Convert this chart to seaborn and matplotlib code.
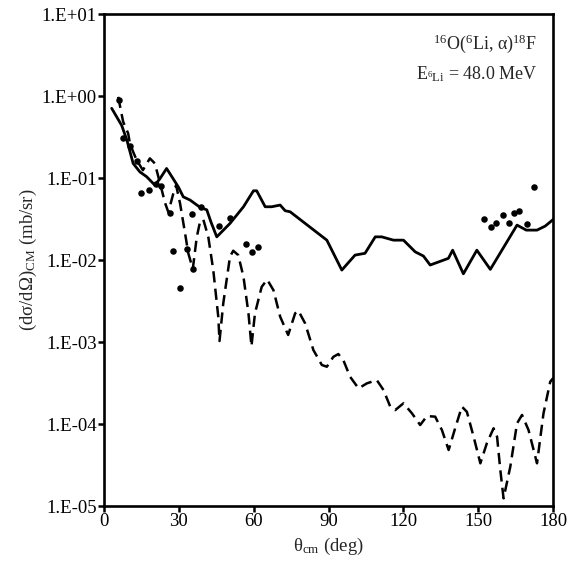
import numpy as np
import pandas as pd
import matplotlib
matplotlib.use("Agg")
import matplotlib.pyplot as plt
import seaborn as sns

# ---- data ----
solid_theta = [3.1, 7.1, 9.2, 11.7, 14.4, 17.1, 20.4, 22.5, 25.1, 27.3, 29.8, 31.8, 34.5,
               38.5, 41.2, 42.9, 45.2, 50.5, 55.9, 59.9, 61.2, 64.6, 67.2, 70.6, 72.6, 74.6,
               89.3, 95.3, 100.6, 104.6, 108.7, 111.3, 116.0, 120.0, 124.7, 128.0, 130.7,
               138.0, 139.7, 144.0, 149.4, 154.8, 165.5, 169.2, 173.5, 176.8, 180.0]
solid_sigma = [0.71, 0.44, 0.29, 0.151, 0.119, 0.104, 0.082, 0.099, 0.131, 0.103, 0.078,
               0.059, 0.054, 0.044, 0.041, 0.029, 0.0192, 0.028, 0.0447, 0.070, 0.070,
               0.0447, 0.0447, 0.0469, 0.040, 0.0388, 0.0175, 0.00755, 0.0115, 0.0121,
               0.0192, 0.0192, 0.0175, 0.0175, 0.0126, 0.0112, 0.0087, 0.0105, 0.0132,
               0.0068, 0.0132, 0.0077, 0.0267, 0.0232, 0.0232, 0.026, 0.0313]

dashed_theta = [5.7, 7.7, 9.7, 10.4, 11.7, 13.1, 15.6, 18.4, 20.4, 22.5, 24.5, 25.8, 27.8,
                28.9, 30.5, 32.5, 33.8, 35.6, 37.2, 38.5, 39.8, 41.8, 43.8, 45.8, 46.3, 47.8,
                50.5, 51.8, 53.8, 55.9, 57.9, 59.1, 60.5, 63.2, 65.4, 67.9, 70.6, 73.8, 76.6,
                77.9, 80.6, 83.9, 87.3, 89.3, 91.9, 93.9, 95.9, 98.6, 102.0, 105.3, 109.3,
                112.0, 114.7, 116.7, 120.0, 123.4, 126.7, 129.4, 132.7, 135.4, 138.1, 140.7,
                143.4, 145.4, 148.1, 150.8, 153.4, 156.1, 157.5, 158.8, 160.1, 162.8, 165.5,
                167.5, 170.1, 173.5, 176.1, 178.8, 180.0]
dashed_sigma = [0.98, 0.486, 0.351, 0.265, 0.209, 0.166, 0.125, 0.174, 0.151, 0.086, 0.0496,
                0.0385, 0.065, 0.082, 0.049, 0.0212, 0.0121, 0.0078, 0.0192, 0.0293, 0.0313,
                0.0192, 0.00755, 0.00204, 0.00103, 0.00296, 0.011, 0.013, 0.0115, 0.00625,
                0.00224, 0.00089, 0.00224, 0.00472, 0.00578, 0.0043, 0.00204, 0.00122,
                0.00224, 0.00241, 0.00169, 0.0008, 0.000525, 0.0005, 0.00066, 0.000714,
                0.000603, 0.000378, 0.000272, 0.000313, 0.000344, 0.00026, 0.000163,
                0.000148, 0.000179, 0.000135, 0.0000973, 0.000125, 0.000123, 0.0000845,
                0.0000482, 0.0000887, 0.000163, 0.000141, 0.00007, 0.0000332, 0.0000582,
                0.0000887, 0.00007, 0.0000275, 0.0000124, 0.0000302, 0.000102, 0.000129,
                0.0000845, 0.0000332, 0.000135, 0.000328, 0.000364]

exp_theta = [6.0, 7.7, 10.4, 13.1, 15.0, 18.0, 21.0, 22.9, 26.5, 27.8, 30.5, 33.1, 35.7,
             35.2, 38.8, 46.2, 50.5, 56.8, 59.5, 61.6,
             152.4, 155.1, 157.2, 159.9, 162.4, 164.1, 166.1, 169.5, 172.4]
exp_sigma = [0.89, 0.305, 0.245, 0.163, 0.0666, 0.0714, 0.0845, 0.0798, 0.0374, 0.013,
             0.0046, 0.0138, 0.0077, 0.0369, 0.044, 0.026, 0.0328, 0.0157, 0.0126, 0.0145,
             0.0313, 0.0255, 0.0285, 0.0351, 0.0285, 0.0377, 0.0399, 0.0275, 0.077]

x_ticks = [0, 30, 60, 90, 120, 150, 180]
y_ticks = [1e-5, 1e-4, 1e-3, 1e-2, 1e-1, 1e0, 1e1]
y_tick_labels = ["1.E-05", "1.E-04", "1.E-03", "1.E-02", "1.E-01", "1.E+00", "1.E+01"]

# ---- style ----
sns.set_style("ticks")
plt.rcParams['font.family'] = ['Liberation Serif', 'DejaVu Serif']
plt.rcParams['mathtext.fontset'] = 'custom'
plt.rcParams['mathtext.rm'] = 'Liberation Serif'
plt.rcParams['mathtext.it'] = 'Liberation Serif:italic'
plt.rcParams['mathtext.bf'] = 'Liberation Serif:bold'

fig = plt.figure(figsize=(5.68, 5.66), dpi=100)
ax = fig.add_axes([0.183, 0.106, 0.791, 0.869])

df_solid = pd.DataFrame({"theta": solid_theta, "sigma": solid_sigma})
df_dash = pd.DataFrame({"theta": dashed_theta, "sigma": dashed_sigma})
df_exp = pd.DataFrame({"theta": exp_theta, "sigma": exp_sigma})

sns.lineplot(data=df_solid, x="theta", y="sigma", ax=ax, color="black", lw=2.0,
             estimator=None, sort=False)
sns.lineplot(data=df_dash, x="theta", y="sigma", ax=ax, color="black", lw=1.8,
             estimator=None, sort=False, dashes=False, linestyle=(0, (4.5, 2.5)))
sns.scatterplot(data=df_exp, x="theta", y="sigma", ax=ax, color="black", s=22,
                edgecolor="black", linewidth=0, zorder=5)

ax.set_yscale("log")
ax.set_xlim(0, 180)
ax.set_ylim(1e-5, 1e1)
ax.set_xticks(x_ticks)
ax.set_xticklabels([str(t) for t in x_ticks])
ax.set_yticks(y_ticks)
ax.set_yticklabels(y_tick_labels)
ax.yaxis.set_minor_locator(matplotlib.ticker.NullLocator())

for sp in ax.spines.values():
    sp.set_visible(True)
    sp.set_linewidth(1.9)
    sp.set_color("black")
ax.tick_params(axis="both", which="major", direction="out", length=4, width=1.8,
               labelsize=13.5, colors="black", pad=1)

ax.set_xlabel(r"θ$_{\mathrm{cm}}$ (deg)", fontsize=13.5, labelpad=4)
ax.set_ylabel(r"(dσ/dΩ)$_{\mathrm{CM}}$ (mb/sr)", fontsize=13.5, labelpad=2)

ax.text(0.965, 0.94, r"$^{16}$O($^{6}$Li, α)$^{18}$F", transform=ax.transAxes,
        ha="right", va="center", fontsize=13)
ax.text(0.965, 0.877, r"E$_{^{6}\mathrm{Li}}$ = 48.0 MeV", transform=ax.transAxes,
        ha="right", va="center", fontsize=13)

fig.savefig("out.png", dpi=100, facecolor="white")
